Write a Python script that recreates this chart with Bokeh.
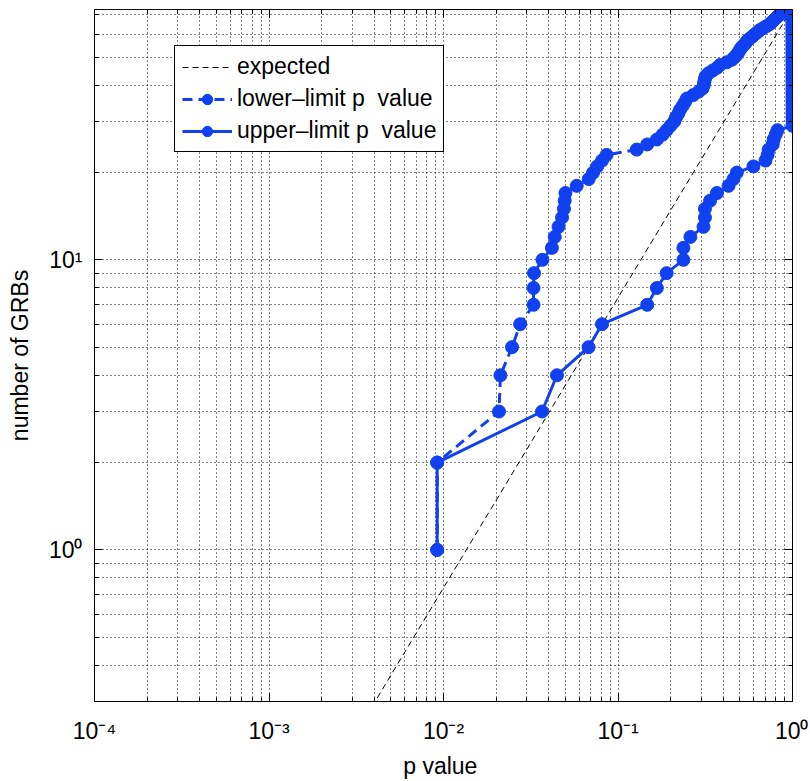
from bokeh.plotting import figure
from bokeh.models import (FixedTicker, CustomJSTickFormatter, LogAxis, Legend,
                          LegendItem, Range1d)
from bokeh.embed import file_html
from bokeh.resources import INLINE

# ---------------- data ----------------
x_major_ticks = [1e-4, 1e-3, 1e-2, 1e-1, 1.0]
x_minor_ticks = [2e-4, 3e-4, 4e-4, 5e-4, 6e-4, 7e-4, 8e-4, 9e-4,
                 2e-3, 3e-3, 4e-3, 5e-3, 6e-3, 7e-3, 8e-3, 9e-3,
                 2e-2, 3e-2, 4e-2, 5e-2, 6e-2, 7e-2, 8e-2, 9e-2,
                 0.2, 0.3, 0.4, 0.5, 0.6, 0.7, 0.8, 0.9]
y_major_ticks = [1, 10]
y_minor_ticks = [0.3, 0.4, 0.5, 0.6, 0.7, 0.8, 0.9,
                 2, 3, 4, 5, 6, 7, 8, 9,
                 20, 30, 40, 50, 60, 70]

expected_p = [1e-3, 1.0]
expected_n = [0.074, 74.0]

lower_p = [0.0092, 0.0092, 0.0208, 0.0212, 0.0247, 0.0275, 0.0328, 0.0328, 0.0330, 0.0369,
           0.0418, 0.0434, 0.0456, 0.0478, 0.0490, 0.0495, 0.0500, 0.0580, 0.0680, 0.0720,
           0.0760, 0.0810, 0.0860, 0.128, 0.147, 0.167, 0.180, 0.190, 0.200, 0.210,
           0.215, 0.222, 0.227, 0.235, 0.242, 0.248, 0.270, 0.290, 0.305, 0.310,
           0.312, 0.315, 0.318, 0.330, 0.350, 0.370, 0.385, 0.420, 0.450, 0.465,
           0.480, 0.490, 0.500, 0.510, 0.525, 0.540, 0.550, 0.570, 0.590, 0.610,
           0.630, 0.650, 0.680, 0.710, 0.740, 0.760, 0.780, 0.800, 0.820, 0.845,
           0.870, 0.900, 0.930, 0.960]
lower_n = list(range(1, 75))

upper_p = [0.0092, 0.0092, 0.0367, 0.0447, 0.0678, 0.081, 0.147, 0.167, 0.190, 0.237,
           0.237, 0.260, 0.309, 0.315, 0.315, 0.337, 0.369, 0.430, 0.459, 0.480,
           0.597, 0.700, 0.720, 0.730, 0.770, 0.780, 0.800, 0.820, 1.0, 1.0,
           1.0, 1.0, 1.0, 1.0, 1.0, 1.0, 1.0, 1.0, 1.0, 1.0,
           1.0, 1.0, 1.0, 1.0, 1.0, 1.0, 1.0, 1.0, 1.0, 1.0,
           1.0, 1.0, 1.0, 1.0, 1.0, 1.0, 1.0, 1.0, 1.0, 1.0,
           1.0, 1.0, 1.0, 1.0, 1.0, 1.0, 1.0, 1.0, 1.0, 1.0,
           1.0, 1.0, 1.0, 1.0]
upper_n = list(range(1, 75))

# ---------------- styling ----------------
FONT = "Liberation Sans"
BLUE = "#1040f0"

p = figure(width=808, height=781, x_axis_type="log", y_axis_type="log",
           x_range=Range1d(1e-4, 1.0), y_range=Range1d(0.3, 73),
           output_backend="svg", toolbar_location=None,
           min_border_left=94, min_border_right=16, min_border_top=9,
           min_border_bottom=77)
p.background_fill_color = "white"
p.border_fill_color = "white"
p.outline_line_color = "black"
p.outline_line_width = 1
p.outline_line_alpha = 1.0

fmt = CustomJSTickFormatter(code="""
const sup = {"-": "\u207b", "0": "\u2070", "1": "\u00b9", "2": "\u00b2",
             "3": "\u00b3", "4": "\u2074", "5": "\u2075"};
const e = Math.round(Math.log10(tick));
return "10" + String(e).split("").map(c => sup[c]).join("");
""")
blank = CustomJSTickFormatter(code="return '';")

xt = FixedTicker(ticks=x_major_ticks, minor_ticks=x_minor_ticks)
yt = FixedTicker(ticks=y_major_ticks, minor_ticks=y_minor_ticks)

for ax, tk in ((p.xaxis[0], xt), (p.yaxis[0], yt)):
    ax.ticker = tk
    ax.formatter = fmt
    ax.major_label_text_font = FONT
    ax.major_label_text_font_size = "23px"
    ax.major_label_text_color = "black"
    ax.axis_line_color = "black"
    ax.major_tick_in = 8
    ax.major_tick_out = 0
    ax.minor_tick_in = 4
    ax.minor_tick_out = 0
    ax.major_tick_line_color = "black"
    ax.minor_tick_line_color = "black"
    ax.axis_label_text_font = FONT
    ax.axis_label_text_font_size = "23px"
    ax.axis_label_text_font_style = "normal"
    ax.axis_label_text_color = "black"

p.xaxis.major_label_standoff = 16
p.yaxis.major_label_standoff = 12
p.yaxis.axis_label = "number of GRBs"
p.yaxis.axis_label_standoff = 13
p.xaxis.axis_label = "p  value"
p.xaxis.axis_label_standoff = 6

# box ticks on top and right
for loc, tk in (("above", xt), ("right", yt)):
    a = LogAxis(ticker=tk, formatter=blank)
    a.major_label_standoff = 0
    a.major_tick_in = 8
    a.major_tick_out = 0
    a.minor_tick_in = 4
    a.minor_tick_out = 0
    a.axis_line_color = "black"
    p.add_layout(a, loc)

for g in (p.xgrid[0], p.ygrid[0]):
    g.grid_line_color = "black"
    g.grid_line_dash = "1 3"
    g.grid_line_alpha = 1.0
    g.grid_line_width = 1
    g.minor_grid_line_color = "black"
    g.minor_grid_line_dash = "1 3"
    g.minor_grid_line_alpha = 1.0
    g.minor_grid_line_width = 1

# ---------------- glyphs ----------------
r_exp = p.line(expected_p, expected_n, line_color="black", line_dash="6 4", line_width=1)

r_low_l = p.line(lower_p, lower_n, line_color=BLUE, line_width=3, line_dash="10 6")
r_low_s = p.scatter(lower_p, lower_n, marker="circle", size=13,
                    fill_color=BLUE, line_color=BLUE)

r_up_l = p.line(upper_p, upper_n, line_color=BLUE, line_width=3)
r_up_s = p.scatter(upper_p, upper_n, marker="circle", size=13,
                   fill_color=BLUE, line_color=BLUE)

legend = Legend(items=[
    LegendItem(label="expected", renderers=[r_exp]),
    LegendItem(label="lower\u2013limit p  value", renderers=[r_low_l, r_low_s]),
    LegendItem(label="upper\u2013limit p  value", renderers=[r_up_l, r_up_s]),
], location=(80, 549))
legend.label_text_font = FONT
legend.label_text_font_size = "23px"
legend.label_text_color = "black"
legend.border_line_color = "black"
legend.border_line_width = 1
legend.border_line_alpha = 1.0
legend.background_fill_color = "white"
legend.background_fill_alpha = 1.0
legend.padding = 7
legend.spacing = 5
legend.label_height = 26
legend.glyph_height = 26
legend.glyph_width = 50
legend.label_standoff = 5
legend.margin = 0
p.add_layout(legend, "center")

open("out.html", "w").write(file_html(p, INLINE))
